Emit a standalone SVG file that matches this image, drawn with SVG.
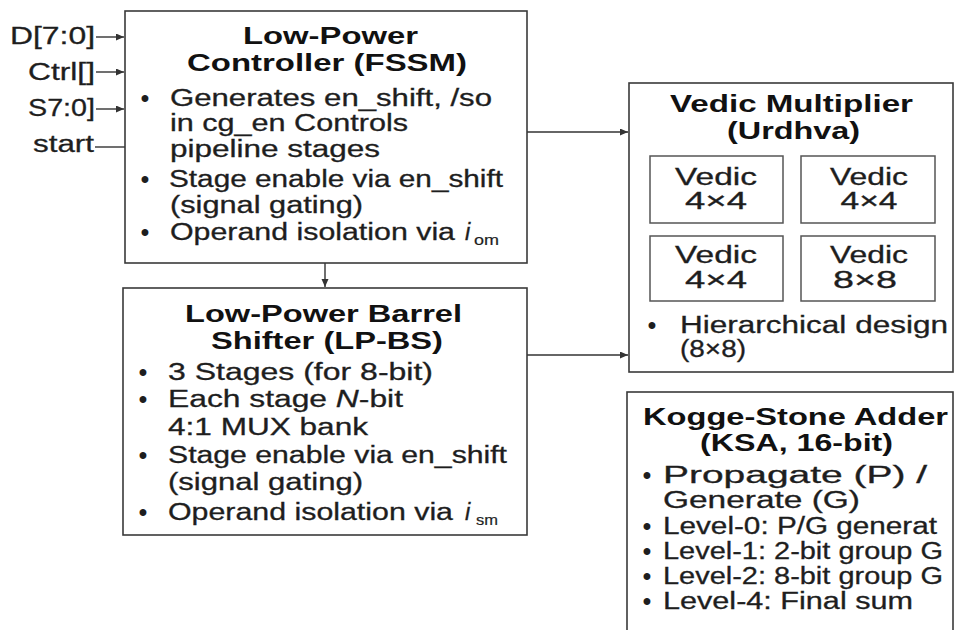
<svg xmlns="http://www.w3.org/2000/svg" width="959" height="630" viewBox="0 0 959 630">
<style>
text{font-family:"Liberation Sans",Arial,sans-serif;fill:#1e1e1e}
.t{font-size:24px;font-weight:bold;fill:#111}
.b{font-size:23.5px;stroke:#1e1e1e;stroke-width:0.3}
.s{font-size:15px;stroke:#1e1e1e;stroke-width:0.2}
.d{font-size:24px;font-weight:bold;text-anchor:middle}
.m{text-anchor:middle}
.box{fill:#fff;stroke:#3a3a3a;stroke-width:1.6}
.sub{fill:#fff;stroke:#555;stroke-width:1.5}
.c{stroke:#333;stroke-width:1.4;fill:none}
</style>
<defs>
<marker id="ah" markerUnits="userSpaceOnUse" markerWidth="9" markerHeight="8" refX="8" refY="3.5" orient="auto">
<path d="M0,0 L8,3.5 L0,7 z" fill="#333"/>
</marker>
</defs>
<rect width="959" height="630" fill="#fff"/>

<g id="inputs">
<text class="b" x="10" y="44" textLength="85" lengthAdjust="spacingAndGlyphs">D[7:0]</text>
<text class="b" x="28" y="80" textLength="67" lengthAdjust="spacingAndGlyphs">Ctrl[]</text>
<text class="b" x="28" y="116" textLength="67" lengthAdjust="spacingAndGlyphs">S7:0]</text>
<text class="b" x="33" y="152" textLength="61" lengthAdjust="spacingAndGlyphs">start</text>
</g>

<g id="connectors">
<line class="c" x1="96" y1="37" x2="124" y2="37" marker-end="url(#ah)"/>
<line class="c" x1="96" y1="72" x2="124" y2="72" marker-end="url(#ah)"/>
<line class="c" x1="96" y1="109" x2="124" y2="109" marker-end="url(#ah)"/>
<line class="c" x1="95" y1="147" x2="125" y2="147"/>
<line class="c" x1="325" y1="263" x2="325" y2="287" marker-end="url(#ah)"/>
<line class="c" x1="527" y1="132" x2="628" y2="132" marker-end="url(#ah)"/>
<line class="c" x1="527" y1="355" x2="628" y2="355" marker-end="url(#ah)"/>
</g>

<g id="controller">
<rect class="box" x="125" y="11" width="402" height="252"/>
<text class="t" x="243" y="44" textLength="175" lengthAdjust="spacingAndGlyphs">Low-Power</text>
<text class="t" x="187" y="71" textLength="280" lengthAdjust="spacingAndGlyphs">Controller (FSSM)</text>
<text class="d" x="145" y="106">•</text>
<text class="d" x="145" y="187">•</text>
<text class="d" x="145" y="240">•</text>
<text class="b" x="170" y="106" textLength="322" lengthAdjust="spacingAndGlyphs">Generates en_shift, /so</text>
<text class="b" x="170" y="131" textLength="238" lengthAdjust="spacingAndGlyphs">in cg_en Controls</text>
<text class="b" x="170" y="157" textLength="210" lengthAdjust="spacingAndGlyphs">pipeline stages</text>
<text class="b" x="169" y="187" textLength="334" lengthAdjust="spacingAndGlyphs">Stage enable via en_shift</text>
<text class="b" x="170" y="213" textLength="193" lengthAdjust="spacingAndGlyphs">(signal gating)</text>
<text class="b" x="170" y="240" textLength="285" lengthAdjust="spacingAndGlyphs">Operand isolation via</text>
<text class="b" x="465" y="240" font-style="italic">i</text>
<text class="s" x="474" y="245" textLength="25" lengthAdjust="spacingAndGlyphs">om</text>
</g>

<g id="shifter">
<rect class="box" x="123" y="288" width="404" height="247"/>
<text class="t" x="185" y="322" textLength="277" lengthAdjust="spacingAndGlyphs">Low-Power Barrel</text>
<text class="t" x="211" y="349" textLength="232" lengthAdjust="spacingAndGlyphs">Shifter (LP-BS)</text>
<text class="d" x="143" y="380">•</text>
<text class="d" x="143" y="407">•</text>
<text class="d" x="143" y="463">•</text>
<text class="d" x="143" y="520">•</text>
<text class="b" x="168" y="380" textLength="265" lengthAdjust="spacingAndGlyphs">3 Stages (for 8-bit)</text>
<text class="b" x="168" y="407" textLength="235" lengthAdjust="spacingAndGlyphs">Each stage <tspan font-style="italic">N</tspan>-bit</text>
<text class="b" x="168" y="435" textLength="200" lengthAdjust="spacingAndGlyphs">4:1 MUX bank</text>
<text class="b" x="168" y="463" textLength="339" lengthAdjust="spacingAndGlyphs">Stage enable via en_shift</text>
<text class="b" x="168" y="490" textLength="195" lengthAdjust="spacingAndGlyphs">(signal gating)</text>
<text class="b" x="168" y="520" textLength="285" lengthAdjust="spacingAndGlyphs">Operand isolation via</text>
<text class="b" x="465" y="520" font-style="italic">i</text>
<text class="s" x="476" y="525" textLength="22" lengthAdjust="spacingAndGlyphs">sm</text>
</g>

<g id="vedic">
<rect class="box" x="629" y="83" width="324" height="289"/>
<text class="t" x="670" y="112" textLength="243" lengthAdjust="spacingAndGlyphs">Vedic Multiplier</text>
<text class="t" x="727" y="139" textLength="133" lengthAdjust="spacingAndGlyphs">(Urdhva)</text>
<g id="vedic-4x4-a">
<rect class="sub" x="650" y="156" width="133" height="67"/>
<text class="b m" x="716" y="185" textLength="82" lengthAdjust="spacingAndGlyphs">Vedic</text>
<text class="b m" x="716" y="209" textLength="62" lengthAdjust="spacingAndGlyphs">4×4</text>
</g>
<g id="vedic-4x4-b">
<rect class="sub" x="801" y="156" width="134" height="67"/>
<text class="b m" x="869" y="185" textLength="78" lengthAdjust="spacingAndGlyphs">Vedic</text>
<text class="b m" x="869" y="209" textLength="57" lengthAdjust="spacingAndGlyphs">4×4</text>
</g>
<g id="vedic-4x4-c">
<rect class="sub" x="650" y="236" width="133" height="65"/>
<text class="b m" x="716" y="263" textLength="82" lengthAdjust="spacingAndGlyphs">Vedic</text>
<text class="b m" x="716" y="288" textLength="62" lengthAdjust="spacingAndGlyphs">4×4</text>
</g>
<g id="vedic-8x8">
<rect class="sub" x="801" y="236" width="134" height="65"/>
<text class="b m" x="869" y="263" textLength="78" lengthAdjust="spacingAndGlyphs">Vedic</text>
<text class="b m" x="865" y="288" textLength="64" lengthAdjust="spacingAndGlyphs">8×8</text>
</g>
<text class="d" x="652" y="333">•</text>
<text class="b" x="680" y="333" textLength="268" lengthAdjust="spacingAndGlyphs">Hierarchical design</text>
<text class="b" x="680" y="357" textLength="66" lengthAdjust="spacingAndGlyphs">(8×8)</text>
</g>

<g id="ksa">
<rect class="box" x="627" y="392" width="326" height="250"/>
<text class="t" x="643" y="425" textLength="305" lengthAdjust="spacingAndGlyphs">Kogge-Stone Adder</text>
<text class="t" x="700" y="451" textLength="193" lengthAdjust="spacingAndGlyphs">(KSA, 16-bit)</text>
<text class="d" x="647" y="483">•</text>
<text class="d" x="647" y="534">•</text>
<text class="d" x="647" y="559">•</text>
<text class="d" x="647" y="584">•</text>
<text class="d" x="647" y="609">•</text>
<text class="b" x="663" y="483" textLength="264" lengthAdjust="spacingAndGlyphs">Propagate (P) /</text>
<text class="b" x="663" y="508" textLength="197" lengthAdjust="spacingAndGlyphs">Generate (G)</text>
<text class="b" x="663" y="534" textLength="274" lengthAdjust="spacingAndGlyphs">Level-0: P/G generat</text>
<text class="b" x="663" y="559" textLength="280" lengthAdjust="spacingAndGlyphs">Level-1: 2-bit group G</text>
<text class="b" x="663" y="584" textLength="280" lengthAdjust="spacingAndGlyphs">Level-2: 8-bit group G</text>
<text class="b" x="663" y="609" textLength="250" lengthAdjust="spacingAndGlyphs">Level-4: Final sum</text>
</g>
</svg>
